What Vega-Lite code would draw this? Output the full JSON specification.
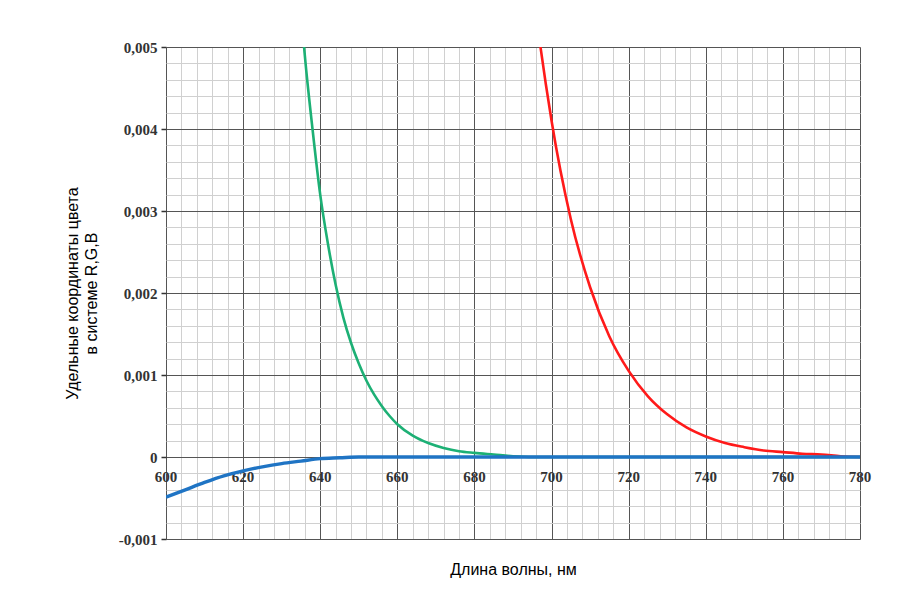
{
  "$schema": "https://vega.github.io/schema/vega-lite/v6.json",
  "autosize": "none",
  "width": 694,
  "height": 492,
  "padding": {"left": 166, "top": 47, "right": 62, "bottom": 59},
  "background": "white",
  "config": {"view": {"stroke": null}},
  "datasets": {
    "red": [
      {"wl": 690, "v": 0.0083}, {"wl": 695, "v": 0.0058}, {"wl": 700, "v": 0.0041},
      {"wl": 705, "v": 0.0029}, {"wl": 710, "v": 0.00207}, {"wl": 715, "v": 0.00147},
      {"wl": 720, "v": 0.00105}, {"wl": 725, "v": 0.00074}, {"wl": 730, "v": 0.00052},
      {"wl": 735, "v": 0.00036}, {"wl": 740, "v": 0.00025}, {"wl": 745, "v": 0.00017},
      {"wl": 750, "v": 0.00012}, {"wl": 755, "v": 0.00008}, {"wl": 760, "v": 0.00006},
      {"wl": 765, "v": 0.00004}, {"wl": 770, "v": 0.00003}, {"wl": 775, "v": 0.00001},
      {"wl": 780, "v": 0}
    ],
    "green": [
      {"wl": 630, "v": 0.0092}, {"wl": 632, "v": 0.0075}, {"wl": 634, "v": 0.0061},
      {"wl": 636, "v": 0.0049}, {"wl": 638, "v": 0.0040}, {"wl": 640, "v": 0.0032},
      {"wl": 642, "v": 0.0026}, {"wl": 644, "v": 0.0021}, {"wl": 646, "v": 0.0017},
      {"wl": 648, "v": 0.00139}, {"wl": 650, "v": 0.00114}, {"wl": 652, "v": 0.00093},
      {"wl": 654, "v": 0.00076}, {"wl": 656, "v": 0.00062}, {"wl": 658, "v": 0.0005},
      {"wl": 660, "v": 0.0004}, {"wl": 664, "v": 0.00026}, {"wl": 668, "v": 0.00017},
      {"wl": 672, "v": 0.00011}, {"wl": 676, "v": 0.00007}, {"wl": 680, "v": 0.00005},
      {"wl": 685, "v": 0.00003}, {"wl": 690, "v": 0.00001}, {"wl": 695, "v": 0},
      {"wl": 780, "v": 0}
    ],
    "blue": [
      {"wl": 600, "v": -0.00049}, {"wl": 605, "v": -0.0004}, {"wl": 610, "v": -0.00031},
      {"wl": 615, "v": -0.00023}, {"wl": 620, "v": -0.00017}, {"wl": 625, "v": -0.00012},
      {"wl": 630, "v": -0.00008}, {"wl": 635, "v": -0.00005}, {"wl": 640, "v": -0.00002},
      {"wl": 645, "v": -0.00001}, {"wl": 650, "v": 0}, {"wl": 780, "v": 0}
    ],
    "xlabels": [
      {"wl": 600}, {"wl": 620}, {"wl": 640}, {"wl": 660}, {"wl": 680},
      {"wl": 700}, {"wl": 720}, {"wl": 740}, {"wl": 760}, {"wl": 780}
    ]
  },
  "layer": [
    {
      "data": {"name": "xlabels"},
      "mark": {"type": "text", "font": "Liberation Serif", "fontWeight": "bold", "fontSize": 15, "color": "#333333", "dy": 20, "baseline": "middle", "align": "center"},
      "encoding": {
        "x": {
          "field": "wl", "type": "quantitative",
          "scale": {"domain": [600, 780], "nice": false, "zero": false},
          "axis": {
            "values": [600,604,608,612,616,620,624,628,632,636,640,644,648,652,656,660,664,668,672,676,680,684,688,692,696,700,704,708,712,716,720,724,728,732,736,740,744,748,752,756,760,764,768,772,776,780],
            "tickCount": 500,
            "grid": true,
            "gridColor": {"condition": {"test": "datum.value % 20 === 0", "value": "#555555"}, "value": "#d0d0d0"},
            "gridWidth": 1,
            "labels": false,
            "ticks": false,
            "domain": false,
            "title": "Длина волны, нм",
            "titleFont": "Liberation Sans",
            "titleFontSize": 16,
            "titleFontWeight": "normal",
            "titleColor": "#000000",
            "titlePadding": 22
          }
        },
        "y": {
          "datum": 0, "type": "quantitative",
          "scale": {"domain": [-0.001, 0.005], "nice": false, "zero": false},
          "axis": {
            "values": [-0.001,-0.0008,-0.0006,-0.0004,-0.0002,0,0.0002,0.0004,0.0006,0.0008,0.001,0.0012,0.0014,0.0016,0.0018,0.002,0.0022,0.0024,0.0026,0.0028,0.003,0.0032,0.0034,0.0036,0.0038,0.004,0.0042,0.0044,0.0046,0.0048,0.005],
            "tickCount": 500,
            "grid": true,
            "gridColor": {"condition": {"test": "abs(datum.value*1000 - round(datum.value*1000)) < 1e-6", "value": "#555555"}, "value": "#d0d0d0"},
            "gridWidth": 1,
            "domain": false,
            "tickColor": "#333333",
            "tickWidth": 1.5,
            "tickSize": {"condition": {"test": "abs(datum.value*1000 - round(datum.value*1000)) < 1e-6", "value": 5}, "value": 0},
            "labelExpr": "abs(datum.value*1000 - round(datum.value*1000)) < 1e-6 ? (abs(datum.value) < 1e-9 ? '0' : (datum.value < 0 ? '-' : '') + replace(format(abs(datum.value), '.3f'), '.', ',')) : ''",
            "labelFont": "Liberation Serif",
            "labelFontWeight": "bold",
            "labelFontSize": 15,
            "labelColor": "#333333",
            "labelPadding": 4,
            "labelOverlap": false,
            "labelBound": false,
            "labelFlush": false,
            "title": ["Удельные координаты цвета", "в системе R,G,B"],
            "titleFont": "Liberation Sans",
            "titleFontSize": 16,
            "titleFontWeight": "normal",
            "titleColor": "#000000",
            "titleLineHeight": 19,
            "titlePadding": 19
          }
        },
        "text": {"field": "wl", "type": "quantitative", "format": "d"}
      }
    },
    {
      "mark": {"type": "rule", "color": "#000000", "strokeWidth": 3},
      "encoding": {"y": {"datum": 0, "type": "quantitative"}}
    },
    {
      "mark": {"type": "rule", "color": "#000000", "strokeWidth": 3},
      "encoding": {"x": {"datum": 600, "type": "quantitative"}}
    },
    {
      "data": {"name": "green"},
      "mark": {"type": "line", "color": "#1db075", "strokeWidth": 2.6, "interpolate": "monotone", "clip": true},
      "encoding": {
        "x": {"field": "wl", "type": "quantitative"},
        "y": {"field": "v", "type": "quantitative"}
      }
    },
    {
      "data": {"name": "red"},
      "mark": {"type": "line", "color": "#ff1a1a", "strokeWidth": 2.6, "interpolate": "monotone", "clip": true},
      "encoding": {
        "x": {"field": "wl", "type": "quantitative"},
        "y": {"field": "v", "type": "quantitative"}
      }
    },
    {
      "data": {"name": "blue"},
      "mark": {"type": "line", "color": "#1f74c4", "strokeWidth": 3.4, "interpolate": "monotone", "clip": true},
      "encoding": {
        "x": {"field": "wl", "type": "quantitative"},
        "y": {"field": "v", "type": "quantitative"}
      }
    },
    {
      "mark": {"type": "point", "shape": "triangle-right", "filled": true, "color": "#1a4f8a", "size": 45, "opacity": 1},
      "encoding": {
        "x": {"datum": 780, "type": "quantitative"},
        "y": {"datum": 0, "type": "quantitative"}
      }
    },
    {
      "mark": {"type": "point", "shape": "triangle-up", "filled": true, "color": "#000000", "size": 45, "opacity": 1},
      "encoding": {
        "x": {"datum": 600, "type": "quantitative"},
        "y": {"datum": 0.005, "type": "quantitative"}
      }
    }
  ]
}
